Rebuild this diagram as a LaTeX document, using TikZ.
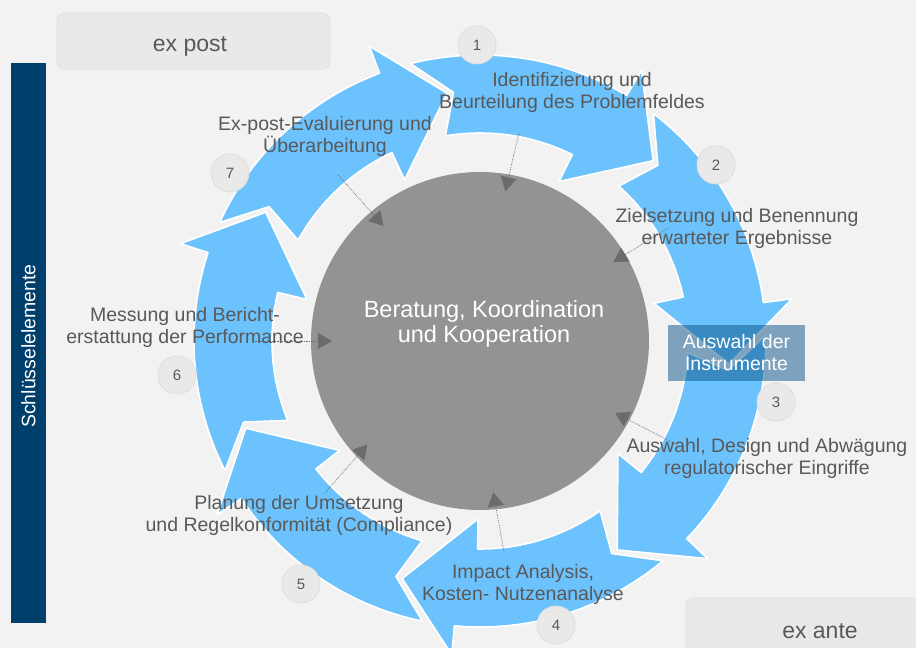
\documentclass[tikz,border=0pt]{standalone}
\usepackage{fontspec}
\setmainfont{Liberation Sans}
\usepackage{tikz}
\usetikzlibrary{arrows.meta, positioning}
\usepackage{xcolor}

\definecolor{bgGray}{RGB}{242,242,242}
\definecolor{ringBlue}{RGB}{108,194,252}
\definecolor{coreGray}{RGB}{147,147,147}
\definecolor{barBlue}{RGB}{0,63,107}
\definecolor{txtGray}{RGB}{89,89,89}
\definecolor{tagGray}{RGB}{233,233,233}
\definecolor{boxBlue}{RGB}{7,80,134}

% ring radii (1 unit = 1px of the layout)
\newcommand{\rIn}{208}
\newcommand{\rOut}{286}
\newcommand{\rMid}{250}
\newcommand{\rBarbI}{178}
\newcommand{\rBarbO}{315}

% one curved arrow of the cycle, #1 = angle of its tip
\newcommand{\cyclearrow}[1]{%
  \pgfmathsetmacro{\tipA}{#1}%
  \pgfmathsetmacro{\prvA}{#1+51.43}%
  \filldraw[ringarrow]
    (\prvA+6.5:\rOut) arc[start angle=\prvA+6.5, end angle=\tipA+13, radius=\rOut]
    -- (\tipA+13:\rBarbO) -- (\tipA:\rMid) -- (\tipA+17.5:\rBarbI) -- (\tipA+17.5:\rIn)
    arc[start angle=\tipA+17.5, end angle=\prvA+2, radius=\rIn]
    -- (\prvA-1.5:\rMid) -- cycle;
}

\begin{document}
\begin{tikzpicture}[x=1pt, y=1pt, line join=round,
    ringarrow/.style={fill=ringBlue, draw=white, line width=1.6pt},
    numdot/.style={circle, fill=tagGray, draw=black!13, line width=0.8pt, minimum size=38pt,
      inner sep=0pt, text=txtGray, font=\fontsize{15}{15}\selectfont},
    steplabel/.style={align=center, text=txtGray, inner sep=0pt, font=\fontsize{19.5}{22}\selectfont},
    tagbox/.style={rounded corners=8pt, fill=tagGray, draw=black!12, line width=0.8pt},
    link/.style={densely dotted, line width=0.7pt, draw=black!65,
      -{Triangle[length=14pt, width=16pt]}, color=black!58}]

  % page and frame
  \useasboundingbox (-480,-307) rectangle (436,341);
  \clip (-480,-307) rectangle (436,341);
  \fill[bgGray] (-480,-307) rectangle (436,341);

  % side bar
  \fill[barBlue] (-469,-282) rectangle (-434,278);
  \node[rotate=90, text=white, font=\fontsize{19.5}{22}\selectfont] (keys) at (-451.5,-5) {Schlüsselelemente};

  % phase tags
  \filldraw[tagbox] (-423,272) rectangle (-150,328);
  \node[text=txtGray, font=\fontsize{23}{25}\selectfont] (expost) at (-290,295) {ex post};
  \filldraw[tagbox] (206,-257) rectangle (460,-340);
  \node[text=txtGray, font=\fontsize{23}{25}\selectfont] (exante) at (340,-290) {ex ante};

  % the seven arrows of the cycle
  \foreach \k in {0,...,6}
    \cyclearrow{46.15-\k*51.43};

  % core
  \node[circle, fill=coreGray, minimum size=338pt, inner sep=0pt] (core) at (0,0) {};
  \node[align=center, text=white, font=\fontsize{23.5}{25.5}\selectfont] (corelabel) at (4,17)
    {Beratung, Koordination\\und Kooperation};

  % step numbers
  \node[numdot] (n1) at (-3,296) {1};
  \node[numdot] (n2) at (236,176) {2};
  \node[numdot] (n3) at (296,-61) {3};
  \node[numdot] (n4) at (76,-284) {4};
  \node[numdot] (n5) at (-179,-243) {5};
  \node[numdot] (n6) at (-303,-34) {6};
  \node[numdot] (n7) at (-250,168) {7};

  % links from the ring to the core
  \coordinate (s1) at (79.4:212);  \coordinate (t1) at (80.4:152);
  \coordinate (s2) at (31:219);    \coordinate (t2) at (30.6:155);
  \coordinate (s3) at (-27.8:220); \coordinate (t3) at (-28:153);
  \coordinate (s4) at (-83.5:213); \coordinate (t4) at (-85:152);
  \coordinate (s5) at (-135.6:217);\coordinate (t5) at (-137.4:153);
  \coordinate (s6) at (180:227);   \coordinate (t6) at (180:148);
  \coordinate (s7) at (130.5:218); \coordinate (t7) at (130:150);
  \foreach \i in {1,...,7}
    \draw[link] (s\i) -- (t\i);

  % step labels
  \node[steplabel] (l1) at (92,249) {Identifizierung und\\Beurteilung des Problemfeldes};
  \node[steplabel] (l2) at (257,113) {Zielsetzung und Benennung\\erwarteter Ergebnisse};
  \node[fill=boxBlue, fill opacity=0.49, text opacity=1, text=white, align=center,
    minimum width=137pt, minimum height=56pt, inner sep=0pt,
    font=\fontsize{19.5}{22}\selectfont] (tools) at (256.5,-12) {Auswahl der\\Instrumente};
  \node[steplabel] (l3) at (287,-117.5) {Auswahl, Design und Abwägung\\regulatorischer Eingriffe};
  \node[steplabel] (l4) at (43,-243.5) {Impact Analysis,\\Kosten- Nutzenanalyse};
  \node[steplabel] (l5) at (-181,-174.5) {Planung der Umsetzung\\und Regelkonformität (Compliance)};
  \node[steplabel] (l6) at (-295,14) {Messung und Bericht-\\erstattung der Performance};
  \node[steplabel] (l7) at (-155,205) {Ex-post-Evaluierung und\\Überarbeitung};
\end{tikzpicture}
\end{document}
